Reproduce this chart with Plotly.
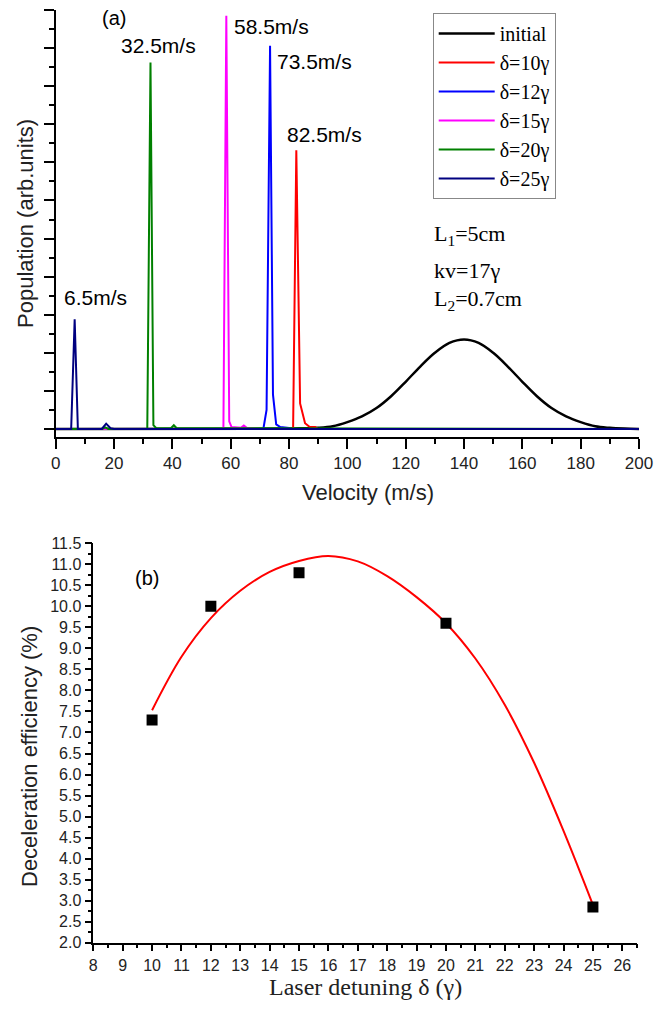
import plotly.graph_objects as go

W, H = 670, 1012

# ---------------- Panel (a) data ----------------
vel_initial = [0, 80, 85, 90, 95, 100, 105, 110, 115, 120, 125, 130, 135, 140,
               145, 150, 155, 160, 165, 170, 175, 180, 185, 190, 195, 200]
pop_initial = [0, 0.01, 0.02, 0.03, 0.07, 0.18, 0.33, 0.55, 0.86, 1.24, 1.64, 2.00, 2.26, 2.35,
               2.26, 2.00, 1.64, 1.24, 0.86, 0.55, 0.33, 0.18, 0.07, 0.03, 0.01, 0]

vel_d10 = [0, 81.4, 82.5, 83.8, 85.5, 87.0, 89.0, 90.0, 200]
pop_d10 = [0, 0, 7.32, 0.67, 0.15, 0.06, 0.05, 0, 0]

vel_d12 = [0, 71.2, 72.3, 73.5, 74.5, 75.6, 77.0, 80.0, 81.0, 200]
pop_d12 = [0, 0, 0.5, 10.06, 0.9, 0.12, 0.05, 0.03, 0, 0]

vel_d15 = [0, 57.5, 58.5, 59.5, 60.3, 62.0, 63.5, 64.5, 65.5, 70.0, 200]
pop_d15 = [0, 0, 10.85, 0.2, 0.05, 0.03, 0.03, 0.09, 0.03, 0, 0]

vel_d20 = [0, 16.0, 17.0, 18.0, 31.4, 32.5, 33.5, 34.5, 39.5, 40.5, 41.5, 200]
pop_d20 = [0, 0, 0.04, 0, 0, 9.62, 0.1, 0.02, 0.02, 0.1, 0.02, 0]

vel_d25 = [0, 5.3, 6.5, 7.6, 15.8, 17.3, 18.8, 20.0, 200]
pop_d25 = [0, 0, 2.88, 0, 0, 0.14, 0.02, 0, 0]

series_names = ["initial", "δ=10γ", "δ=12γ", "δ=15γ", "δ=20γ", "δ=25γ"]
series_colors = ["#000000", "#ff0000", "#0000ff", "#ff00ff", "#008000", "#000080"]

peak_labels = ["6.5m/s", "32.5m/s", "58.5m/s", "73.5m/s", "82.5m/s"]
peak_label_x = [13.5, 35.1, 60.4, 75.2, 78.6]
peak_label_y = [3.44, 10.07, 10.58, 9.66, 7.74]
peak_label_anchor = ["center", "center", "left", "left", "left"]

# ---------------- Panel (b) data ----------------
detuning = [10, 12, 15, 20, 25]
efficiency = [7.3, 10.0, 10.8, 9.6, 2.85]
fit_x = [10, 11, 12, 13, 14, 15, 16, 17, 18, 19, 20, 21, 22, 23, 24, 25]
fit_y = [7.53, 8.80, 9.72, 10.37, 10.82, 11.08, 11.20, 11.07, 10.72, 10.22,
         9.60, 8.76, 7.66, 6.28, 4.66, 2.90]

# ---------------- geometry helpers (pixels -> paper) ----------------
def px(xp):
    return xp / W

def py(yp):
    return 1 - yp / H

SANS = "Liberation Sans, Arial, sans-serif"
SERIF = "Liberation Serif, Times New Roman, serif"

fig = go.Figure()

xs = [vel_initial, vel_d10, vel_d12, vel_d15, vel_d20, vel_d25]
ys = [pop_initial, pop_d10, pop_d12, pop_d15, pop_d20, pop_d25]
for i, (xv, yv) in enumerate(zip(xs, ys)):
    fig.add_trace(go.Scatter(
        x=xv, y=yv, mode="lines", name=series_names[i],
        line=dict(color=series_colors[i], width=2.5 if i == 0 else 2,
                  shape="spline" if i == 0 else "linear"),
        xaxis="x", yaxis="y"))

fig.add_trace(go.Scatter(
    x=fit_x, y=fit_y, mode="lines", line=dict(color="#ff0000", width=2, shape="spline"),
    showlegend=False, xaxis="x2", yaxis="y2"))
fig.add_trace(go.Scatter(
    x=detuning, y=efficiency, mode="markers",
    marker=dict(symbol="square", size=11, color="black"),
    showlegend=False, xaxis="x2", yaxis="y2"))

axis_common = dict(showgrid=False, zeroline=False, showline=True, linecolor="black",
                   linewidth=1.5, ticks="outside", tickcolor="black", tickwidth=1.5,
                   automargin=False)

fig.update_layout(
    width=W, height=H, autosize=False,
    margin=dict(l=0, r=0, t=0, b=0, pad=0),
    paper_bgcolor="white", plot_bgcolor="white",
    xaxis=dict(domain=[px(55.7), px(639)], range=[0, 200], anchor="y",
               dtick=20, tick0=0, ticklen=10,
               minor=dict(dtick=10, ticklen=5, ticks="outside", tickcolor="black", tickwidth=1.5),
               tickfont=dict(family=SANS, size=17, color="#222"), **axis_common),
    yaxis=dict(domain=[py(437), py(10)], range=[-0.21, 11.0], anchor="x",
               dtick=1, tick0=0, ticklen=10, showticklabels=False,
               minor=dict(dtick=0.5, ticklen=5, ticks="outside", tickcolor="black", tickwidth=1.5),
               **axis_common),
    xaxis2=dict(domain=[px(93.3), px(637.3)], range=[8, 26.51], anchor="y2",
                dtick=1, tick0=8, ticklen=7,
                minor=dict(dtick=0.5, ticklen=4, ticks="outside", tickcolor="black", tickwidth=1.5),
                tickfont=dict(family=SANS, size=16, color="#222"), **axis_common),
    yaxis2=dict(domain=[py(942.7), py(543.3)], range=[2, 11.5], anchor="x2",
                dtick=0.5, tick0=2, ticklen=7, tickformat=".1f",
                minor=dict(dtick=0.25, ticklen=4, ticks="outside", tickcolor="black", tickwidth=1.5),
                tickfont=dict(family=SANS, size=16, color="#222"), **axis_common),
    legend=dict(x=px(432.7), y=py(13), xanchor="left", yanchor="top",
                bordercolor="#888888", borderwidth=1, bgcolor="white",
                font=dict(family=SERIF, size=20, color="black"),
                itemwidth=56, tracegroupgap=0),
    showlegend=True,
)

annotations = []
for t, xv, yv, an in zip(peak_labels, peak_label_x, peak_label_y, peak_label_anchor):
    annotations.append(dict(x=xv, y=yv, xref="x", yref="y", text=t, showarrow=False,
                            xanchor=an, yanchor="middle",
                            font=dict(family=SANS, size=21, color="black")))

annotations.append(dict(x=px(114), y=py(18), xref="paper", yref="paper", text="(a)",
                        showarrow=False, xanchor="center", yanchor="middle",
                        font=dict(family=SANS, size=20, color="black")))
annotations.append(dict(x=px(147), y=py(578), xref="paper", yref="paper", text="(b)",
                        showarrow=False, xanchor="center", yanchor="middle",
                        font=dict(family=SANS, size=20, color="black")))

for t, yy in [("L<sub>1</sub>=5cm", 235), ("kv=17γ", 270), ("L<sub>2</sub>=0.7cm", 300)]:
    annotations.append(dict(x=px(432), y=py(yy), xref="paper", yref="paper", text=t,
                            showarrow=False, xanchor="left", yanchor="middle",
                            font=dict(family=SERIF, size=22, color="black")))

annotations.append(dict(x=px(25), y=py(224), xref="paper", yref="paper",
                        text="Population (arb.units)", textangle=-90, showarrow=False,
                        xanchor="center", yanchor="middle",
                        font=dict(family=SANS, size=22, color="#222")))
annotations.append(dict(x=px(368), y=py(493), xref="paper", yref="paper",
                        text="Velocity (m/s)", showarrow=False,
                        xanchor="center", yanchor="middle",
                        font=dict(family=SANS, size=22, color="#222")))
annotations.append(dict(x=px(29), y=py(757), xref="paper", yref="paper",
                        text="Deceleration efficiency (%)", textangle=-90, showarrow=False,
                        xanchor="center", yanchor="middle",
                        font=dict(family=SANS, size=22, color="#222")))
annotations.append(dict(x=px(365), y=py(987), xref="paper", yref="paper",
                        text="Laser detuning δ (γ)", showarrow=False,
                        xanchor="center", yanchor="middle",
                        font=dict(family=SERIF, size=24, color="#222")))

fig.update_layout(annotations=annotations)

fig.write_html(
    "out.html",
    config={"displayModeBar": False},
    post_script="document.documentElement.style.margin='0';document.body.style.margin='0';"
                "document.body.style.overflow='hidden';",
)
